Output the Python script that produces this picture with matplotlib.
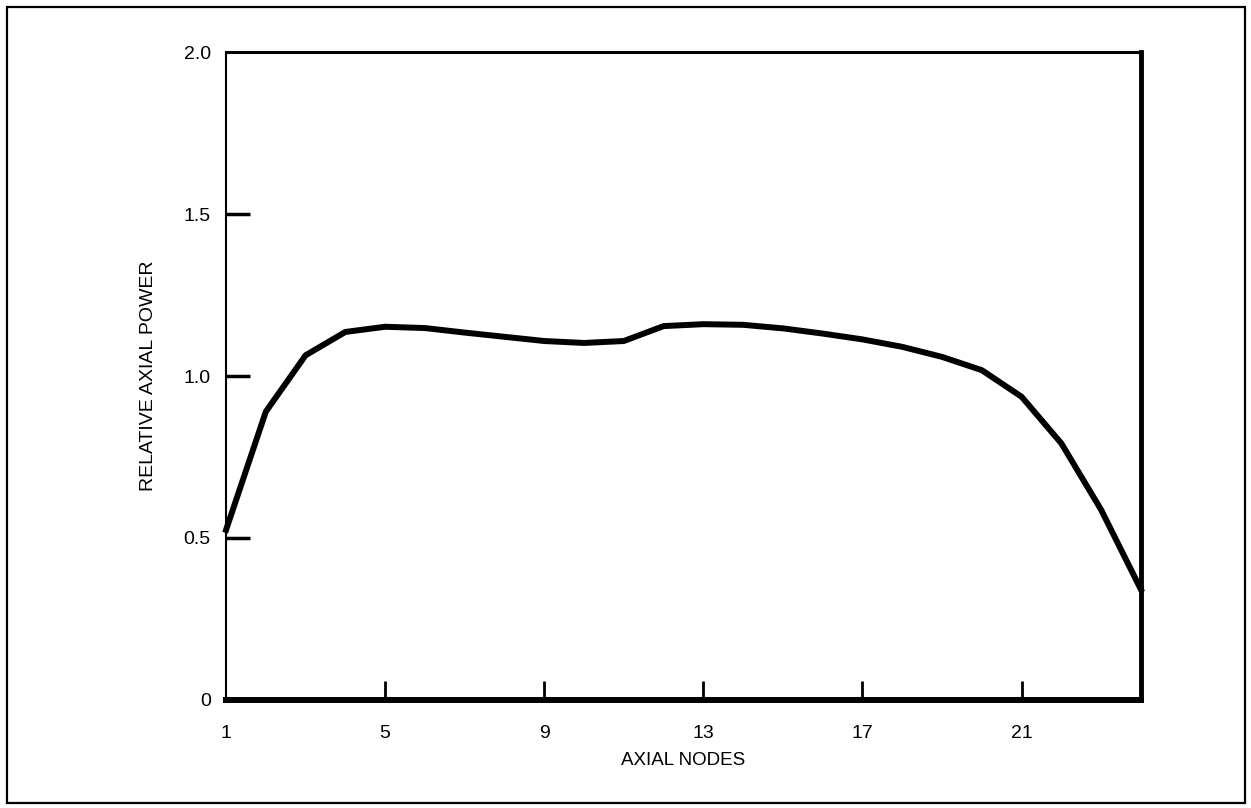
import matplotlib.pyplot as plt
from matplotlib.patches import Rectangle

# axial power shape
nodes = list(range(1, 25))
power = [0.525, 0.89, 1.064, 1.136, 1.152, 1.148, 1.134, 1.121, 1.108, 1.102,
         1.108, 1.154, 1.160, 1.158, 1.147, 1.131, 1.113, 1.090, 1.059, 1.018,
         0.936, 0.792, 0.587, 0.341]

x_ticks = [1, 5, 9, 13, 17, 21]
y_ticks = [0, 0.5, 1.0, 1.5, 2.0]
y_tick_labels = ['0', '0.5', '1.0', '1.5', '2.0']

plt.rcParams['font.family'] = ['Liberation Sans', 'DejaVu Sans']

fig = plt.figure(figsize=(12.51, 8.08), dpi=100)
ax = fig.add_axes([0.1807, 0.1337, 0.7313, 0.8019])

ax.plot(nodes, power, color='black', linewidth=4.3, solid_joinstyle='round', clip_on=False)

ax.set_xlim(1, 24)
ax.set_ylim(0, 2.0)
ax.set_xticks(x_ticks)
ax.set_yticks(y_ticks)
ax.set_yticklabels(y_tick_labels)

ax.tick_params(axis='x', direction='in', length=14, width=2, pad=18, labelsize=14)
ax.tick_params(axis='y', direction='in', length=17, width=2.5, pad=11, labelsize=14)

# no tick marks on the corners, only labels
for t in ax.xaxis.get_major_ticks()[:1]:
    t.tick1line.set_visible(False)
yt = ax.yaxis.get_major_ticks()
for t in (yt[0], yt[-1]):
    t.tick1line.set_visible(False)

ax.spines['left'].set_linewidth(1.5)
ax.spines['top'].set_linewidth(2.2)
ax.spines['right'].set_linewidth(3.5)
ax.spines['bottom'].set_linewidth(4.3)

ax.set_xlabel('AXIAL NODES', fontsize=13.5, labelpad=7)
ax.set_ylabel('RELATIVE AXIAL POWER', fontsize=14, labelpad=19)

# border round the whole figure
fig.patches.append(Rectangle((7 / 1251, 5 / 808), 1238 / 1251, 796 / 808,
                             transform=fig.transFigure, fill=False,
                             edgecolor='black', linewidth=1.6))

fig.savefig('out.png', dpi=100)
